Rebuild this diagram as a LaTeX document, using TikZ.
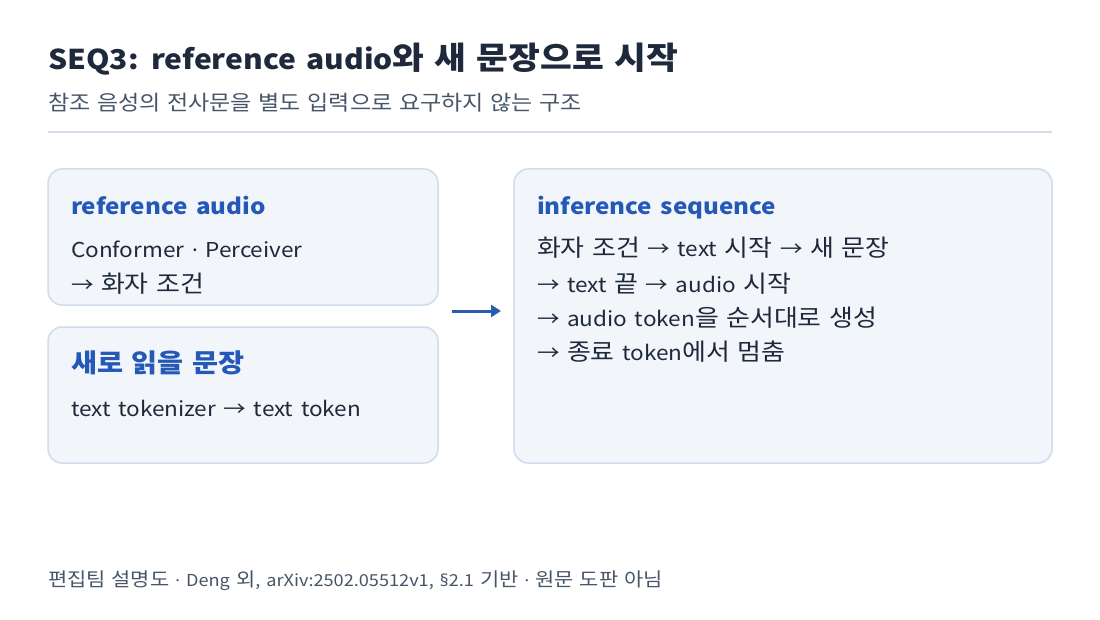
\documentclass[tikz,border=0pt]{standalone}
\usepackage{fontspec}
\usetikzlibrary{arrows.meta}
\setmainfont{Noto Sans CJK KR}[FakeStretch=1.1,WordSpace=1.5]
\newfontfamily\kr{Noto Sans CJK KR}[FakeStretch=1.1,Scale=1.15,WordSpace=1.3]
\newfontfamily\latf{Noto Sans}[FakeStretch=1.05]
\newcommand\mdot{{\latf ·}}
\definecolor{titlec}{HTML}{1E293B}
\definecolor{subc}{HTML}{475569}
\definecolor{rulec}{HTML}{D3DEEA}
\definecolor{boxfill}{HTML}{F2F6FB}
\definecolor{boxline}{HTML}{CFDCEC}
\definecolor{headc}{HTML}{2459B8}
\definecolor{bodyc}{HTML}{1E293B}
\definecolor{arrowc}{HTML}{2A5DB0}
\tikzset{
  card/.style={draw=boxline, fill=boxfill, line width=1.5pt, rounded corners=14pt},
  txt/.style={anchor=base west, inner sep=0pt, outer sep=0pt},
  head/.style={txt, text=headc, font=\fontsize{22}{26}\selectfont\bfseries},
  body/.style={txt, text=bodyc, font=\fontsize{20.5}{24}\selectfont},
}
\begin{document}
\begin{tikzpicture}[x=1pt,y=-1pt]
\useasboundingbox (0,0) rectangle (1100,620);
\fill[white] (0,0) rectangle (1100,620);
\node[txt, text=titlec, font=\fontsize{27.3}{32}\selectfont\bfseries] (title) at (48,70) {SEQ3: reference audio{\kr 와 새 문장으로 시작}};
\node[txt, text=subc, font=\fontsize{18.2}{23}\selectfont] (sub) at (48,111) {\kr 참조 음성의 전사문을 별도 입력으로 요구하지 않는 구조};
\coordinate (ruleL) at (48,132);
\coordinate (ruleR) at (1052,132);
\draw[rulec, line width=2pt] (ruleL) -- (ruleR);

\draw[card] (48,169) rectangle (438,305);
\draw[card] (48,327) rectangle (438,463);
\draw[card] (514,169) rectangle (1052,463);
\coordinate (leftgroup) at (452,311);
\coordinate (rightgroup) at (501,311);
\draw[arrowc, line width=3pt, -{Triangle[length=10pt,width=12pt]}] (leftgroup) -- (rightgroup);

\node[head] (h1) at (71,215) {reference audio};
\node[body] (b1a) at (71,258) {Conformer \mdot{} Perceiver};
\node[body] (b1b) at (71,292) {→ {\kr 화자 조건}};

\node[head] (h2) at (71,372) {{\kr\fontsize{22.4}{26}\selectfont 새로 읽을 문장}};
\node[body] (b2a) at (71,416) {text tokenizer → text token};

\node[head] (h3) at (537,215) {inference sequence};
\node[body] (b3a) at (537,257) {{\kr 화자 조건} → text {\kr 시작} → {\kr 새 문장}};
\node[body] (b3b) at (537,292) {→ text {\kr 끝} → audio {\kr 시작}};
\node[body] (b3c) at (537,326) {→ audio token{\kr 을 순서대로 생성}};
\node[body] (b3d) at (537,360) {→ {\kr 종료} token{\kr 에서 멈춤}};

\node[txt, text=subc, font=\fontsize{16.5}{20}\selectfont] (foot) at (48,586) {{\kr 편집팀 설명도} \mdot{} Deng {\kr 외}, arXiv:2502.05512v1, {\latf §}2.1 {\kr 기반} \mdot{} {\kr 원문 도판 아님}};
\end{tikzpicture}
\end{document}
